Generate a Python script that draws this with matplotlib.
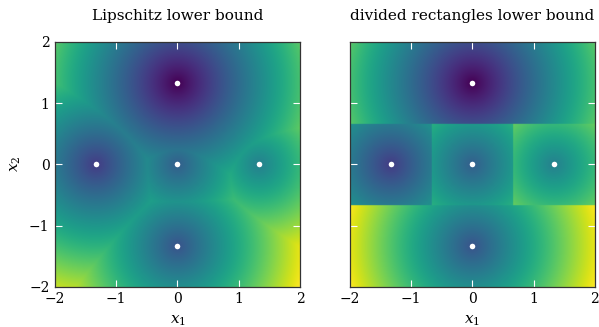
import numpy as np
import matplotlib.pyplot as plt

plt.rcParams['font.family'] = ['DejaVu Serif']
plt.rcParams['mathtext.fontset'] = 'dejavuserif'

# sampled points and their function values
pts_x1 = [0.0, -4/3, 0.0, 4/3, 0.0]
pts_x2 = [4/3, 0.0, 0.0, 0.0, -4/3]
f_vals = [0.03, 0.20, 0.32, 0.45, 0.28]
lipschitz = 0.34

# rectangle owned by each sample (x1 low/high, x2 low/high)
rect_x1_lo = [-2, -2, -2/3, 2/3, -2]
rect_x1_hi = [2, -2/3, 2/3, 2, 2]
rect_x2_lo = [2/3, -2/3, -2/3, -2/3, -2]
rect_x2_hi = [2, 2/3, 2/3, 2/3, -2/3]

ticks = [-2, -1, 0, 1, 2]

n = 500
g = np.linspace(-2, 2, n)
X1, X2 = np.meshgrid(g, g)

# Lipschitz bound: envelope of the cones from every sample
cones = [f + lipschitz * np.hypot(X1 - a, X2 - b)
         for a, b, f in zip(pts_x1, pts_x2, f_vals)]
Z_lip = np.min(cones, axis=0)

# divided rectangles: each rectangle only uses its own center
Z_rect = np.zeros_like(X1)
for i in range(len(f_vals)):
    m = ((X1 >= rect_x1_lo[i]) & (X1 <= rect_x1_hi[i]) &
         (X2 >= rect_x2_lo[i]) & (X2 <= rect_x2_hi[i]))
    Z_rect[m] = cones[i][m]

fig = plt.figure(figsize=(5.99, 3.27), dpi=100)
ax1 = fig.add_axes([0.0918, 0.123, 0.409, 0.749])
ax2 = fig.add_axes([0.584, 0.123, 0.409, 0.749])

for ax, Z, title in [(ax1, Z_lip, "Lipschitz lower bound"),
                     (ax2, Z_rect, "divided rectangles lower bound")]:
    ax.imshow(Z, extent=[-2, 2, -2, 2], origin='lower', cmap='viridis',
              interpolation='bilinear', aspect='auto')
    ax.plot(pts_x1, pts_x2, 'o', color='white', markersize=4, markeredgewidth=0)
    ax.set_xlim(-2, 2)
    ax.set_ylim(-2, 2)
    ax.set_xticks(ticks)
    ax.set_yticks(ticks)
    ax.tick_params(direction='in', color='white', length=5, width=0.8,
                   top=True, right=True, labelsize=10, pad=4)
    ax.set_title(title, fontsize=11, pad=16)
    ax.set_xlabel(r"$x_1$", fontsize=11, labelpad=5)
    for s in ax.spines.values():
        s.set_color('#333333')
        s.set_linewidth(0.9)

ax1.set_ylabel(r"$x_2$", fontsize=11, labelpad=4)
ax2.set_yticklabels([])

fig.savefig("out.png", dpi=100)
